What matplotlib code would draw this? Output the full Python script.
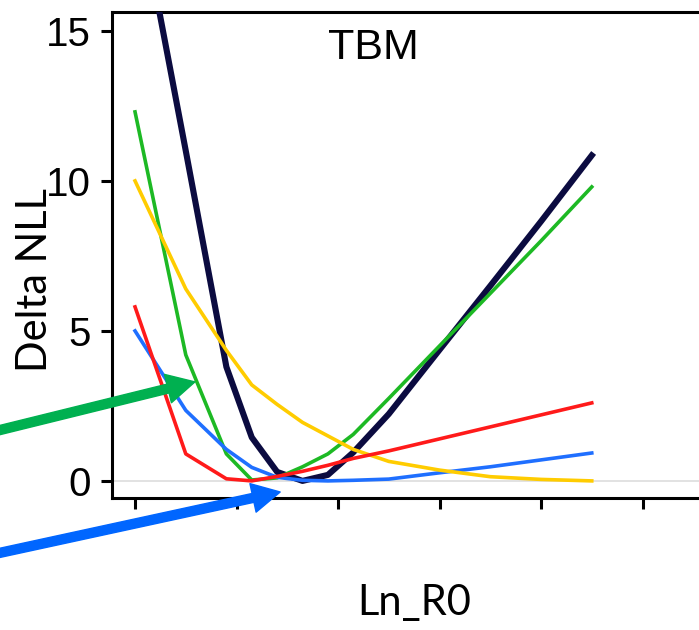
import numpy as np
import matplotlib
matplotlib.use("Agg")
import matplotlib.pyplot as plt

# profile grid (Ln_R0, tick spacing of 1)
ln_r0 = [0.0, 0.5, 0.9, 1.15, 1.4, 1.65, 1.9, 2.15, 2.5, 3.0, 3.5, 4.0, 4.5]

# delta NLL per component
nll_navy = [19.9, 11.0, 3.8, 1.45, 0.3, 0.0, 0.2, 0.95, 2.23, 4.37, 6.5, 8.65, 10.85]
nll_green = [12.3, 4.2, 0.9, 0.03, 0.1, 0.47, 0.9, 1.55, 2.75, 4.5, 6.25, 8.0, 9.8]
nll_red = [5.8, 0.9, 0.07, 0.0, 0.15, 0.32, 0.52, 0.75, 1.0, 1.4, 1.8, 2.2, 2.6]
nll_blue = [5.0, 2.35, 1.05, 0.45, 0.12, 0.02, 0.0, 0.02, 0.06, 0.27, 0.47, 0.7, 0.93]
nll_yellow = [10.0, 6.4, 4.35, 3.2, 2.55, 1.95, 1.5, 1.05, 0.65, 0.36, 0.14, 0.05, 0.0]

y_ticks = [0, 5, 10, 15]
x_ticks = [0, 1, 2, 3, 4, 5, 6]

# arrow tips (data coords)
green_tip = (0.59, 3.3)
blue_tip = (1.43, -0.37)

W, H = 699, 630
fig = plt.figure(figsize=(W / 100, H / 100), dpi=100)
ax = fig.add_axes([112 / W, 132 / H, (750 - 112) / W, 486 / H])

ax.axhline(0, color="#dddddd", lw=1.2, zorder=1)

ax.plot(ln_r0, nll_navy, color="#0b0b40", lw=4.4, zorder=3)
ax.plot(ln_r0, nll_green, color="#1db924", lw=2.6, zorder=4)
ax.plot(ln_r0, nll_blue, color="#1f6fff", lw=2.6, zorder=5)
ax.plot(ln_r0, nll_yellow, color="#ffcc00", lw=2.6, zorder=6)
ax.plot(ln_r0, nll_red, color="#ff1a1a", lw=2.6, zorder=7)

ax.set_xlim(-0.227, 6.059)
ax.set_ylim(-0.57, 15.63)
ax.set_xticks(x_ticks)
ax.set_xticklabels([])
ax.set_yticks(y_ticks)
ax.set_yticklabels([str(t) for t in y_ticks], fontsize=29,
                   family="Liberation Sans")
ax.tick_params(axis="both", length=8, width=2.2, color="black")
ax.tick_params(axis="y", pad=7)
for side in ["left", "bottom", "top"]:
    ax.spines[side].set_linewidth(2.2)
ax.spines["right"].set_visible(False)

fig.text(373 / W, 1 - 48 / H, "TBM", fontsize=31, family="Liberation Sans",
         ha="center", va="center")
fig.text(35 / W, 1 - 280 / H, "Delta NLL", fontsize=30, family="Lato",
         rotation=90, ha="center", va="center")
fig.text(414 / W, 1 - 603 / H, "Ln_R0", fontsize=30, family="Lato",
         ha="center", va="center")

arrow_style = "simple,head_width=2.1,head_length=2.0,tail_width=0.65"
ax.annotate("", xy=green_tip, xycoords="data",
            xytext=(-10, H - 432.5), textcoords="figure pixels",
            arrowprops=dict(arrowstyle=arrow_style, mutation_scale=10,
                            color="#00b050", shrinkA=0, shrinkB=0),
            annotation_clip=False, zorder=10)
ax.annotate("", xy=blue_tip, xycoords="data",
            xytext=(-10, H - 555), textcoords="figure pixels",
            arrowprops=dict(arrowstyle=arrow_style, mutation_scale=10,
                            color="#0066ff", shrinkA=0, shrinkB=0),
            annotation_clip=False, zorder=10)

fig.savefig("out.png", dpi=100)
